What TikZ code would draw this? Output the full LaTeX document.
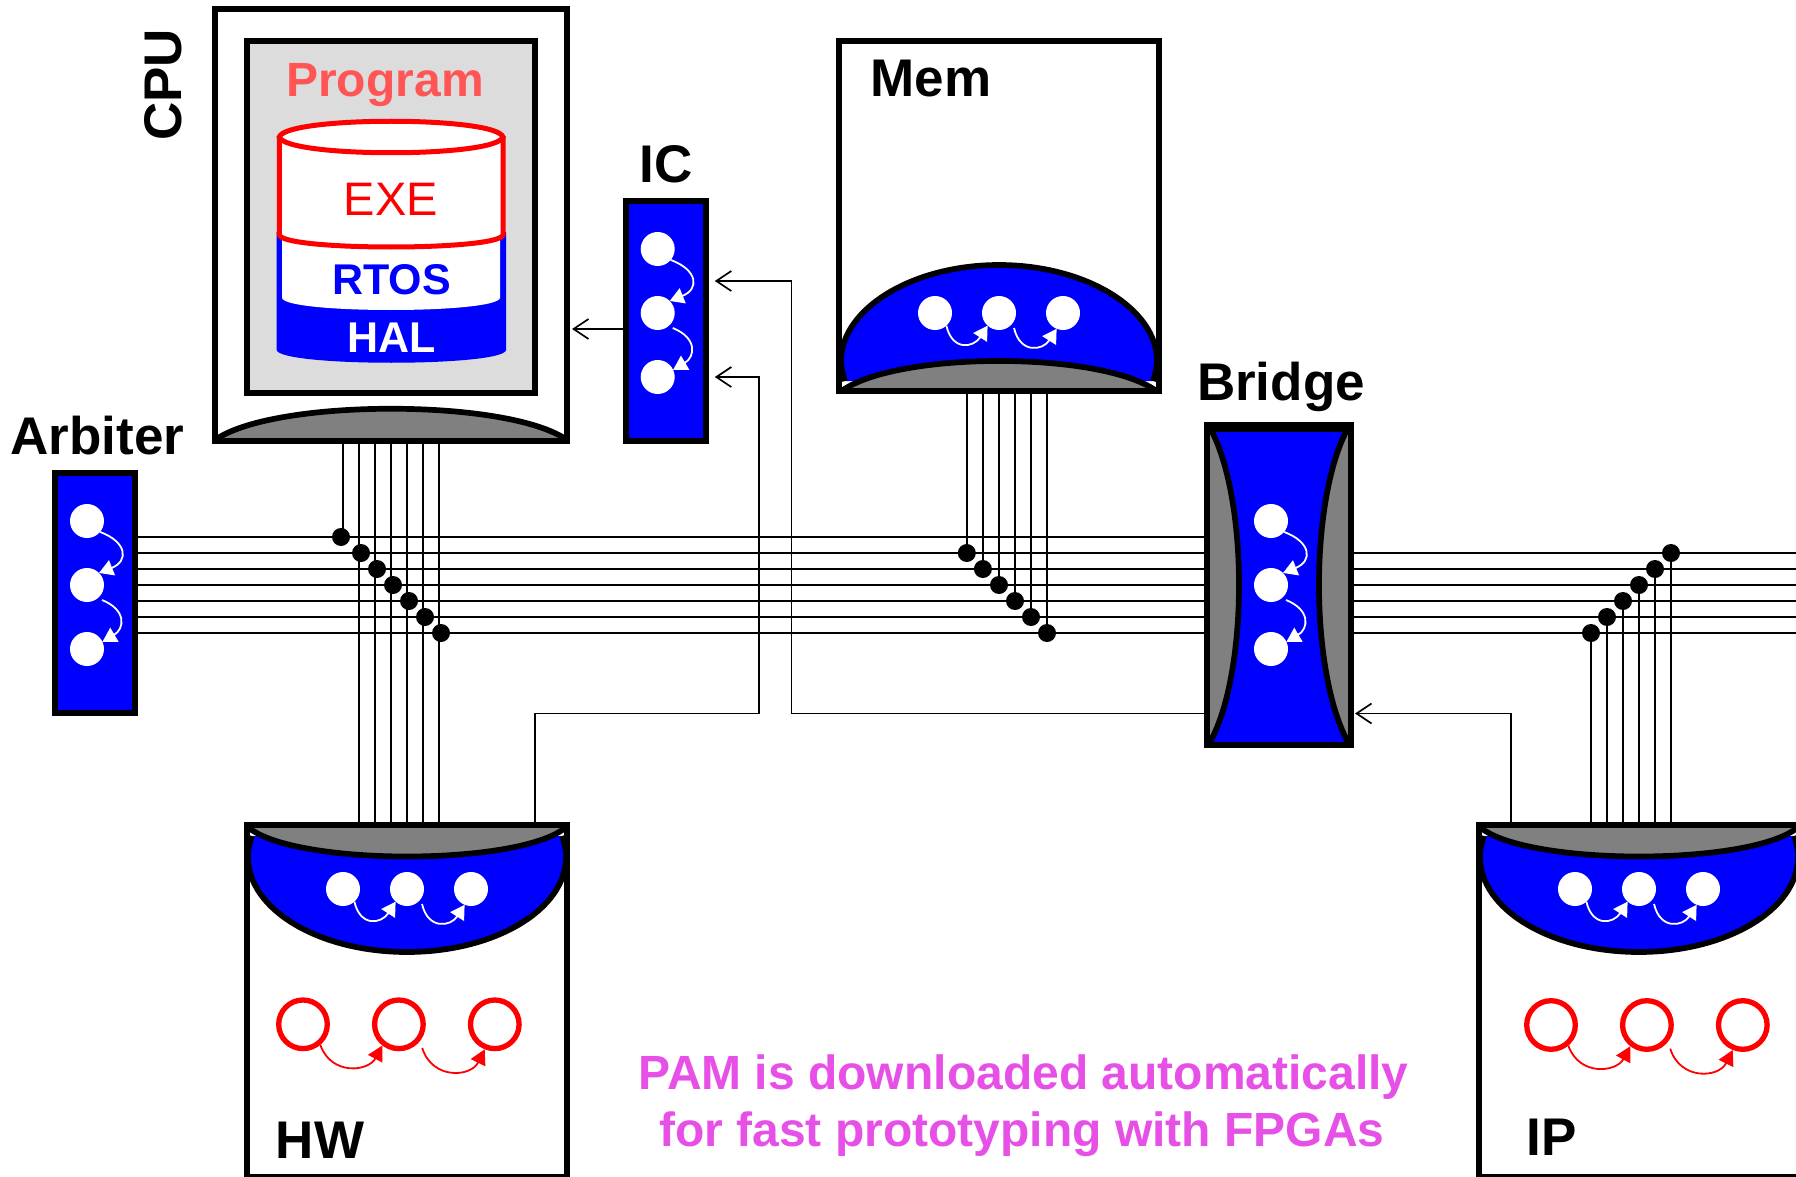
\documentclass[tikz,border=0pt]{standalone}
\usepackage{fontspec}
\setmainfont{Liberation Sans}
\usepackage{tikz}
\usetikzlibrary{positioning,arrows.meta}
\definecolor{paneGray}{HTML}{DCDCDC}
\definecolor{progRed}{HTML}{FF5555}
\definecolor{noteMagenta}{HTML}{E650E6}

\tikzset{
  basin/.pic={
    \draw[fill=blue, line width=5.7pt] (-155,11) .. controls (-157,16) and (-159,24) .. (-159,32)
      .. controls (-159,84.5) and (-88,127) .. (0,127)
      .. controls (88,127) and (159,84.5) .. (159,32) .. controls (159,24) and (157,16) .. (155,11);
    \draw[fill=gray, line width=5.7pt] (-158,3) .. controls (-110,41) and (110,41) .. (158,3);
  }
}

\begin{document}
\begin{tikzpicture}[
  x=1pt, y=-1pt,
  block/.style={rectangle, draw, fill=white, line width=5.7pt, inner sep=0pt, outer sep=0pt},
  blueblock/.style={block, fill=blue, minimum width=80pt, minimum height=240pt},
  caption/.style={font=\fontsize{53}{53}\selectfont\bfseries, anchor=base, inner sep=0pt},
  layer/.style={font=\fontsize{43}{43}\selectfont\bfseries, anchor=base, inner sep=0pt},
  note/.style={font=\fontsize{48}{48}\selectfont\bfseries, text=noteMagenta, anchor=base, inner sep=0pt},
  fsm/.style={circle, fill=white, minimum size=34pt, inner sep=0pt, outer sep=0pt},
  ring/.style={circle, draw=red, line width=5.3pt, minimum size=48.6pt, inner sep=0pt},
  dot/.style={circle, fill=black, minimum size=18pt, inner sep=0pt, outer sep=0pt},
  wire/.style={line width=1.8pt},
  ctrl/.style={line width=1.7pt, -{Straight Barb[length=15pt,width=20pt,line width=1.7pt]}},
  whitetrans/.style={draw=white, line width=1.8pt, -{Triangle[length=14pt,width=16pt]}},
  redtrans/.style={draw=red, line width=1.8pt, -{Triangle[length=15pt,width=16pt]}}
]
\useasboundingbox (0,0) rectangle (1796,1177);

% blocks
\node[block, minimum width=352pt, minimum height=432pt] (cpu) at (391,225) {};
\node[block, fill=paneGray, minimum width=288pt, minimum height=352pt] (pane) at (391,217) {};
\node[blueblock] (ic) at (665.8,321) {};
\node[blueblock] (arbiter) at (95,593) {};
\node[block, minimum width=320pt, minimum height=350pt] (mem) at (999,216) {};
\node[block, fill=black, minimum width=144pt, minimum height=320pt] (bridge) at (1279,585) {};
\node[block, minimum width=320pt, minimum height=352pt] (hw) at (407,1001) {};
\node[block, minimum width=320pt, minimum height=352pt] (ip) at (1639,1001) {};

% bus
\draw[wire] (arbiter.east |- 0,537) -- (bridge.west |- 0,537);
\foreach \y in {553,569,585,601,617,633} {
  \draw[wire] (arbiter.east |- 0,\y) -- (bridge.west |- 0,\y);
  \draw[wire] (bridge.east |- 0,\y) -- (1796,\y);
}

% taps on the bus
\foreach \x/\y [count=\i] in {341/537,361/553,377/569,393/585,409/601,425/617,441/633} {
  \node[dot] (cpudot\i) at (\x,\y) {};
}
\draw[wire] (343,0 |- cpu.south) -- (343,0 |- cpudot1);
\foreach \x in {359,375,391,407,423,439} {
  \draw[wire] (\x,0 |- cpu.south) -- (\x,0 |- hw.north);
}
\foreach \x/\y [count=\i] in {966.8/553,982.9/569,999/585,1015/601,1031/617,1047/633} {
  \node[dot] (memdot\i) at (\x,\y) {};
  \draw[wire] (memdot\i) -- (memdot\i |- mem.south);
}
\foreach \x/\y [count=\i] in {1591/633,1607/617,1623/601,1639/585,1655/569,1671/553} {
  \node[dot] (ipdot\i) at (\x,\y) {};
  \draw[wire] (ipdot\i) -- (ipdot\i |- ip.north);
}

% control lines
\coordinate (hwtap) at (535,825);
\coordinate (iptap) at (1511,825);
\coordinate (icout) at (626,329);
\draw[ctrl, shorten >=5pt] (icout) -- (icout -| cpu.east);
\draw[ctrl, shorten >=9pt] (hwtap) |- (759,713.5) |- (ic.east |- 0,377);
\draw[ctrl, shorten >=9pt] (bridge.west |- 0,713.5) -| (791.5,281) -- (ic.east |- 0,281);
\draw[ctrl, shorten >=4pt] (iptap) |- (bridge.east |- 0,713.5);

% cpu lens and program stack
\draw[fill=gray, line width=5.7pt] (218,438) .. controls (280,399) and (502,399) .. (564,438);
\draw[line width=5.7pt] (cpu.north west) rectangle (cpu.south east);
\fill[blue] (276.6,232) -- (276.6,350) .. controls (280,367) and (503,367) .. (506.2,350) -- (506.2,232) -- cycle;
\fill[white] (282,232) -- (282,298) .. controls (286,314) and (496,314) .. (500,298) -- (500,232) -- cycle;
\draw[red, fill=white, line width=5pt] (279.3,137) -- (279.3,235) .. controls (284,251) and (498,251) .. (503,235) -- (503,137);
\draw[red, fill=white, line width=5pt] (279.3,137) .. controls (286,116) and (496,116) .. (503,137)
  .. controls (496,158) and (286,158) .. cycle;

% mem dome
\draw[fill=blue, line width=5.7pt] (845,381) .. controls (843,375) and (841,368) .. (841,361)
  .. controls (841,309) and (912,265) .. (999,265)
  .. controls (1086,265) and (1157,309) .. (1157,361) .. controls (1157,368) and (1155,375) .. (1153,381);
\draw[fill=gray, line width=5.7pt] (843,390) .. controls (900,351.3) and (1098,351.3) .. (1155,390);
\draw[line width=5.7pt] (mem.north west) rectangle (mem.south east);

% bridge lenses
\fill[blue] (1210,432) rectangle (1348,742);
\draw[fill=gray, line width=5.7pt] (1210,428) .. controls (1228,460) and (1239,520) .. (1239,585)
  .. controls (1239,650) and (1228,710) .. (1210,742);
\draw[fill=gray, line width=5.7pt] (1348,428) .. controls (1330,460) and (1319,520) .. (1319,585)
  .. controls (1319,650) and (1330,710) .. (1348,742);
\draw[line width=5.7pt] (bridge.north west) rectangle (bridge.south east);

% hw and ip basins
\pic at (hw.north) {basin};
\draw[line width=5.7pt] (hw.north west) rectangle (hw.south east);
\pic at (ip.north) {basin};
\draw[line width=5.7pt] (ip.north west) rectangle (ip.south east);

% state columns
\node[fsm] (ica) at (657.7,249) {};
\node[fsm, below=30pt of ica] (icb) {};
\node[fsm, below=30pt of icb] (icc) {};
\draw[whitetrans] (ica.-40) .. controls +(27,10) and +(30,-12) .. (icb.45);
\draw[whitetrans] ([xshift=3pt,yshift=-3pt]icb.-45) .. controls +(25,10) and +(22,-13) .. (icc.25);

\node[fsm] (arba) at (87,521) {};
\node[fsm, below=30pt of arba] (arbb) {};
\node[fsm, below=30pt of arbb] (arbc) {};
\draw[whitetrans] (arba.-40) .. controls +(27,10) and +(30,-12) .. (arbb.45);
\draw[whitetrans] ([xshift=3pt,yshift=-3pt]arbb.-45) .. controls +(25,10) and +(22,-13) .. (arbc.25);

\node[fsm] (bra) at (1271,521) {};
\node[fsm, below=30pt of bra] (brb) {};
\node[fsm, below=30pt of brb] (brc) {};
\draw[whitetrans] (bra.-40) .. controls +(27,10) and +(30,-12) .. (brb.45);
\draw[whitetrans] ([xshift=3pt,yshift=-3pt]brb.-45) .. controls +(25,10) and +(22,-13) .. (brc.25);

% state rows
\node[fsm] (mema) at (935,313) {};
\node[fsm, right=30pt of mema] (memb) {};
\node[fsm, right=30pt of memb] (memc) {};
\draw[whitetrans] (mema.-48) .. controls +(6,26) and +(-14,22) .. (memb.-132);
\draw[whitetrans] ([xshift=3pt,yshift=-3pt]memb.-45) .. controls +(6,26) and +(-14,22) .. (memc.-112);

\node[fsm] (hwa) at (343,889) {};
\node[fsm, right=30pt of hwa] (hwb) {};
\node[fsm, right=30pt of hwb] (hwc) {};
\draw[whitetrans] (hwa.-48) .. controls +(6,26) and +(-14,22) .. (hwb.-132);
\draw[whitetrans] ([xshift=3pt,yshift=-3pt]hwb.-45) .. controls +(6,26) and +(-14,22) .. (hwc.-112);

\node[fsm] (ipa) at (1575,889) {};
\node[fsm, right=30pt of ipa] (ipb) {};
\node[fsm, right=30pt of ipb] (ipc) {};
\draw[whitetrans] (ipa.-48) .. controls +(6,26) and +(-14,22) .. (ipb.-132);
\draw[whitetrans] ([xshift=3pt,yshift=-3pt]ipb.-45) .. controls +(6,26) and +(-14,22) .. (ipc.-112);

% red rings
\node[ring] (hwra) at (303,1024.3) {};
\node[ring, right=42pt of hwra] (hwrb) {};
\node[ring, right=42pt of hwrb] (hwrc) {};
\draw[redtrans] (hwra.-50) .. controls +(11,31) and +(-14,26) .. (hwrb.-128);
\draw[redtrans] ([xshift=6pt,yshift=-3pt]hwrb.-50) .. controls +(10,32) and +(-14,28) .. (hwrc.-112);

\node[ring] (ipra) at (1551,1025) {};
\node[ring, right=42pt of ipra] (iprb) {};
\node[ring, right=42pt of iprb] (iprc) {};
\draw[redtrans] (ipra.-50) .. controls +(11,31) and +(-14,26) .. (iprb.-128);
\draw[redtrans] ([xshift=6pt,yshift=-3pt]iprb.-50) .. controls +(10,32) and +(-14,28) .. (iprc.-112);

% text
\node[font=\fontsize{48}{48}\selectfont\bfseries, text=progRed, anchor=base, inner sep=0pt] (program) at (385,96.7) {Program};
\node[font=\fontsize{47}{47}\selectfont, text=red, anchor=base, inner sep=0pt] (exe) at (391,216) {EXE};
\node[layer, text=blue] (rtos) at (391.5,294) {RTOS};
\node[layer, text=white] (hal) at (391.5,352.7) {HAL};
\node[caption, rotate=90] (cpulabel) at (181,85) {CPU};
\node[caption] (iclabel) at (666,182.7) {IC};
\node[caption] (arblabel) at (97.5,454) {Arbiter};
\node[caption] (memlabel) at (931,96.7) {Mem};
\node[caption] (brlabel) at (1281,400) {Bridge};
\node[caption] (hwlabel) at (320,1158) {HW};
\node[caption] (iplabel) at (1552,1155) {IP};
\node[note] (pama) at (1023.5,1089.3) {PAM is downloaded automatically};
\node[note] (pamb) at (1021.8,1146.7) {for fast prototyping with FPGAs};
\end{tikzpicture}
\end{document}
